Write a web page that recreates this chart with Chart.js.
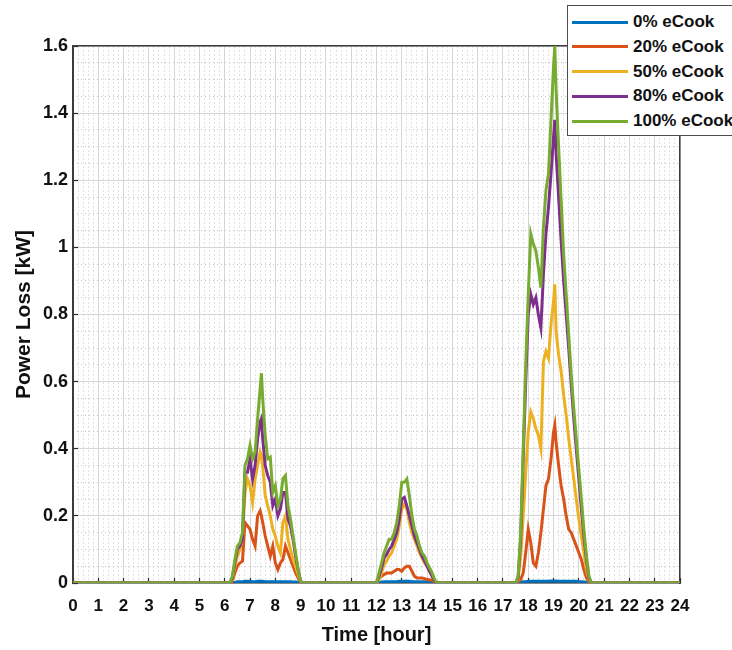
<!DOCTYPE html>
<html>
<head>
<meta charset="utf-8">
<title>Power Loss</title>
<script src="https://cdn.jsdelivr.net/npm/chart.js"></script>
<style>
  body { margin: 0; background: #fff; }
  #wrap { position: relative; width: 732px; height: 650px; overflow: hidden; }
  #legend {
    position: absolute; left: 567px; top: 5px; width: 175px; height: 131px;
    background: #fff; border: 1.5px solid #4d4d4d; box-sizing: border-box;
    font: bold 17px "Liberation Sans", Arial, sans-serif; color: #111;
  }
  .item { position: absolute; left: 4px; height: 20px; display: flex; align-items: center; white-space: nowrap; }
  .swatch { width: 56px; height: 3px; margin-right: 5px; }
</style>
</head>
<body>
<div id="wrap">
  <canvas id="lossChart" width="732" height="650"></canvas>
  <div id="legend"></div>
</div>
<script>
// time axis (hours), dense only where the load is non-zero
const hours = [
    0, 6.2,
    6.3, 6.4, 6.5, 6.6, 6.7, 6.8, 6.9, 7.0, 7.1, 7.2, 7.3, 7.4, 7.45, 7.5, 7.6, 7.7, 7.8, 7.9, 8.0, 8.1, 8.2, 8.3, 8.4, 8.5, 8.6, 8.7, 8.8, 8.9, 9.0, 9.1,
    11.9, 12.0, 12.1, 12.2, 12.3, 12.4, 12.5, 12.6, 12.7, 12.8, 12.9, 13.0, 13.1, 13.2, 13.3, 13.4, 13.5, 13.6, 13.7, 13.8, 13.9, 14.0, 14.1, 14.2, 14.3, 14.4, 14.5,
    17.5, 17.6, 17.7, 17.8, 17.9, 18.0, 18.1, 18.2, 18.3, 18.4, 18.5, 18.6, 18.7, 18.8, 18.9, 19.0, 19.05, 19.1, 19.2, 19.3, 19.4, 19.5, 19.6, 19.7, 19.8, 19.9, 20.0, 20.1, 20.2, 20.3, 20.4, 20.5, 20.6,
    24
];

// power loss in kW for each eCook penetration level
const loss0 = [
    0, 0,
    0, 0.002, 0.004, 0.004, 0.004, 0.005, 0.005, 0.005, 0.004, 0.004, 0.005, 0.005, 0.005, 0.005, 0.004, 0.004, 0.004, 0.004, 0.004, 0.004, 0.004, 0.004, 0.004, 0.004, 0.004, 0.003, 0.003, 0.002, 0, 0,
    0, 0, 0.002, 0.003, 0.004, 0.004, 0.004, 0.004, 0.004, 0.004, 0.005, 0.005, 0.005, 0.005, 0.005, 0.004, 0.004, 0.004, 0.004, 0.004, 0.004, 0.004, 0.003, 0.002, 0, 0, 0,
    0, 0, 0.002, 0.004, 0.004, 0.005, 0.005, 0.005, 0.005, 0.005, 0.005, 0.005, 0.005, 0.005, 0.006, 0.006, 0.006, 0.006, 0.005, 0.005, 0.005, 0.005, 0.005, 0.005, 0.005, 0.005, 0.004, 0.004, 0.003, 0.002, 0, 0, 0,
    0
];
const loss20 = [
    0, 0,
    0.005, 0.03, 0.05, 0.06, 0.065, 0.18, 0.17, 0.16, 0.13, 0.11, 0.20, 0.215, 0.20, 0.18, 0.14, 0.11, 0.08, 0.11, 0.06, 0.04, 0.06, 0.07, 0.11, 0.09, 0.07, 0.05, 0.03, 0.015, 0.002, 0,
    0, 0, 0.015, 0.02, 0.025, 0.03, 0.03, 0.03, 0.035, 0.04, 0.04, 0.035, 0.045, 0.05, 0.05, 0.035, 0.02, 0.015, 0.015, 0.015, 0.013, 0.01, 0.01, 0.008, 0.003, 0, 0,
    0, 0.005, 0.01, 0.03, 0.09, 0.16, 0.12, 0.06, 0.05, 0.09, 0.15, 0.22, 0.29, 0.31, 0.37, 0.45, 0.47, 0.42, 0.35, 0.29, 0.25, 0.2, 0.16, 0.15, 0.13, 0.11, 0.09, 0.07, 0.04, 0.015, 0.003, 0, 0,
    0
];
const loss50 = [
    0, 0,
    0.01, 0.05, 0.08, 0.1, 0.13, 0.27, 0.31, 0.29, 0.24, 0.31, 0.35, 0.39, 0.38, 0.35, 0.26, 0.23, 0.20, 0.16, 0.14, 0.11, 0.09, 0.18, 0.20, 0.13, 0.10, 0.07, 0.05, 0.025, 0.003, 0,
    0, 0, 0.01, 0.03, 0.055, 0.065, 0.08, 0.09, 0.11, 0.13, 0.17, 0.22, 0.235, 0.22, 0.18, 0.15, 0.13, 0.11, 0.09, 0.075, 0.06, 0.05, 0.035, 0.02, 0.005, 0, 0,
    0, 0.01, 0.08, 0.2, 0.33, 0.45, 0.51, 0.49, 0.46, 0.44, 0.4, 0.66, 0.69, 0.67, 0.77, 0.84, 0.89, 0.75, 0.68, 0.63, 0.56, 0.5, 0.43, 0.37, 0.31, 0.25, 0.19, 0.14, 0.09, 0.04, 0.01, 0, 0,
    0
];
const loss80 = [
    0, 0,
    0.015, 0.06, 0.1, 0.11, 0.13, 0.33, 0.33, 0.37, 0.31, 0.35, 0.43, 0.48, 0.49, 0.43, 0.35, 0.32, 0.30, 0.23, 0.25, 0.20, 0.22, 0.27, 0.27, 0.19, 0.17, 0.13, 0.08, 0.04, 0.005, 0,
    0, 0, 0.02, 0.045, 0.075, 0.085, 0.1, 0.11, 0.13, 0.15, 0.19, 0.25, 0.255, 0.23, 0.2, 0.17, 0.14, 0.12, 0.1, 0.08, 0.065, 0.05, 0.035, 0.02, 0.005, 0, 0,
    0, 0.015, 0.13, 0.37, 0.6, 0.8, 0.86, 0.83, 0.85, 0.8, 0.76, 0.92, 1.04, 1.12, 1.22, 1.33, 1.38, 1.28, 1.15, 1.02, 0.9, 0.8, 0.7, 0.59, 0.49, 0.4, 0.31, 0.22, 0.14, 0.07, 0.015, 0, 0,
    0
];
const loss100 = [
    0, 0,
    0.02, 0.07, 0.11, 0.12, 0.15, 0.35, 0.37, 0.41, 0.37, 0.39, 0.49, 0.58, 0.625, 0.55, 0.44, 0.37, 0.375, 0.27, 0.29, 0.23, 0.25, 0.31, 0.32, 0.23, 0.19, 0.14, 0.09, 0.04, 0.005, 0,
    0, 0, 0.03, 0.06, 0.09, 0.11, 0.13, 0.13, 0.15, 0.18, 0.23, 0.30, 0.30, 0.31, 0.26, 0.20, 0.16, 0.14, 0.11, 0.09, 0.08, 0.06, 0.045, 0.03, 0.01, 0, 0,
    0, 0.02, 0.15, 0.4, 0.65, 0.86, 1.04, 1.01, 0.99, 0.94, 0.88, 1.06, 1.17, 1.22, 1.38, 1.54, 1.6, 1.47, 1.3, 1.14, 0.98, 0.86, 0.74, 0.62, 0.52, 0.43, 0.34, 0.25, 0.16, 0.08, 0.02, 0, 0,
    0
];

const seriesLabels = ['0% eCook', '20% eCook', '50% eCook', '80% eCook', '100% eCook'];
const seriesData = [loss0, loss20, loss50, loss80, loss100];
const seriesColors = ['#0072BD', '#D95319', '#EDB120', '#7E2F8E', '#77AC30'];

const fontFamily = '"Liberation Sans", Arial, sans-serif';
const textColor = '#111';

function toPoints(values) {
    return hours.map((h, i) => ({ x: h, y: values[i] }));
}

const datasets = seriesLabels.map((label, i) => ({
    label: label,
    data: toPoints(seriesData[i]),
    borderColor: seriesColors[i],
    backgroundColor: seriesColors[i],
    borderWidth: 3,
    pointRadius: 0,
    tension: 0,
    order: seriesLabels.length - 1 - i // last series ends up on top
}));

const ctx = document.getElementById('lossChart').getContext('2d');
const lossChart = new Chart(ctx, {
    type: 'line',
    data: { datasets: datasets },
    options: {
        responsive: false,
        animation: false,
        layout: { padding: { left: 0, top: 46, right: 52, bottom: 0 } },
        plugins: { legend: { display: false }, tooltip: { enabled: false } },
        scales: {
            // dotted minor grid + top frame line
            xMinor: {
                type: 'linear', position: 'top', min: 0, max: 24,
                ticks: { display: false, stepSize: 0.2 },
                grid: { color: '#c4c4c4', lineWidth: 1, drawTicks: false, z: -2 },
                border: { display: true, color: '#3c3c3c', width: 1.5, dash: [1, 3] },
                afterFit(scale) { scale.height = 0; }
            },
            // dotted minor grid + right frame line
            yMinor: {
                type: 'linear', position: 'right', min: 0, max: 1.6,
                ticks: { display: false, stepSize: 0.05 },
                grid: { color: '#c4c4c4', lineWidth: 1, drawTicks: false, z: -2 },
                border: { display: true, color: '#3c3c3c', width: 1.5, dash: [1, 3] },
                afterFit(scale) { scale.width = 0; }
            },
            x: {
                type: 'linear', position: 'bottom', min: 0, max: 24,
                ticks: {
                    stepSize: 1, autoSkip: false, maxRotation: 0, padding: 18,
                    color: textColor, font: { family: fontFamily, size: 17, weight: 'bold' }
                },
                grid: { color: '#d6d6d6', lineWidth: 1, tickLength: -5, tickColor: '#262626', tickWidth: 1.2 },
                border: { display: true, color: '#3c3c3c', width: 1.5 },
                title: {
                    display: true, text: 'Time [hour]', color: textColor,
                    font: { family: fontFamily, size: 20, weight: 'bold' },
                    padding: { top: 0, bottom: 3 }
                },
                afterFit(scale) { scale.height = 67; }
            },
            y: {
                type: 'linear', position: 'left', min: 0, max: 1.6,
                ticks: {
                    stepSize: 0.2, padding: 10,
                    color: textColor, font: { family: fontFamily, size: 18, weight: 'bold' },
                    callback: (value) => String(Number(value.toFixed(1)))
                },
                grid: { color: '#d6d6d6', lineWidth: 1, tickLength: -5, tickColor: '#262626', tickWidth: 1.2 },
                border: { display: true, color: '#3c3c3c', width: 2 },
                title: {
                    display: true, text: 'Power Loss [kW]', color: textColor,
                    font: { family: fontFamily, size: 21, weight: 'bold' },
                    padding: { top: 12, bottom: 0 }
                },
                afterFit(scale) { scale.width = 73; }
            }
        }
    }
});

// legend box drawn over the top-right corner of the axes, like the original
const legendEl = document.getElementById('legend');
lossChart.data.datasets.forEach((ds, i) => {
    const item = document.createElement('div');
    item.className = 'item';
    item.style.top = (6 + i * 24.8) + 'px';
    const swatch = document.createElement('span');
    swatch.className = 'swatch';
    swatch.style.background = ds.borderColor;
    const text = document.createElement('span');
    text.textContent = ds.label;
    item.appendChild(swatch);
    item.appendChild(text);
    legendEl.appendChild(item);
});
</script>
</body>
</html>
